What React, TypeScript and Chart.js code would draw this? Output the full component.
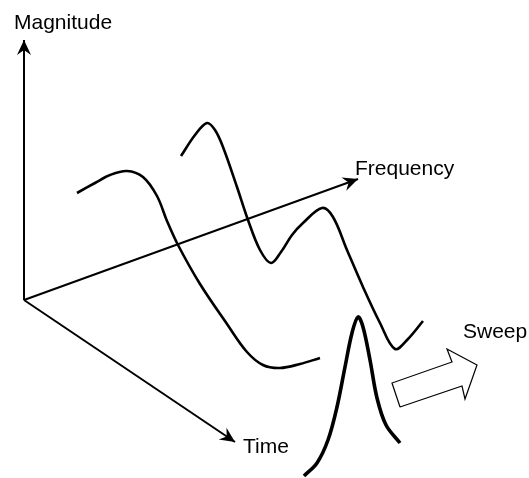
import React, { useEffect, useRef } from "react";
import { Chart, registerables } from "chart.js";

Chart.register(...registerables);

// Diagram coordinates (x to the right, y downward)
const magnitudeAxis = [
  { x: 24, y: 300 },
  { x: 24, y: 40 },
];
const frequencyAxis = [
  { x: 24, y: 300 },
  { x: 358, y: 179 },
];
const timeAxis = [
  { x: 24, y: 300 },
  { x: 235, y: 442 },
];

const backSpectrum = [
  { x: 77, y: 193 }, { x: 95, y: 183 }, { x: 110, y: 175 }, { x: 127, y: 171 },
  { x: 143, y: 177 }, { x: 157, y: 196 }, { x: 167, y: 221 }, { x: 178, y: 245 },
  { x: 200, y: 284 }, { x: 227, y: 324 }, { x: 247, y: 352 }, { x: 263, y: 365 },
  { x: 280, y: 368 }, { x: 300, y: 364 }, { x: 320, y: 358 },
];
const middleSpectrum = [
  { x: 181, y: 156 }, { x: 195, y: 135 }, { x: 207, y: 123 }, { x: 215, y: 130 },
  { x: 223, y: 147 }, { x: 237, y: 187 }, { x: 248, y: 220 }, { x: 260, y: 250 },
  { x: 271, y: 263 }, { x: 281, y: 252 }, { x: 292, y: 235 }, { x: 303, y: 223 },
  { x: 322, y: 208 }, { x: 333, y: 217 }, { x: 347, y: 250 }, { x: 363, y: 287 },
  { x: 380, y: 323 }, { x: 395, y: 349 }, { x: 408, y: 339 }, { x: 423, y: 321 },
];
const frontSpectrum = [
  { x: 304, y: 476 }, { x: 317, y: 463 }, { x: 328, y: 440 }, { x: 337, y: 407 },
  { x: 345, y: 367 }, { x: 352, y: 333 }, { x: 358, y: 317 }, { x: 363, y: 327 },
  { x: 370, y: 360 }, { x: 377, y: 398 }, { x: 386, y: 425 }, { x: 400, y: 443 },
];
const sweepArrow = [
  { x: 400, y: 407 }, { x: 392, y: 383 }, { x: 452, y: 362 }, { x: 447, y: 349 },
  { x: 477, y: 365 }, { x: 465, y: 399 }, { x: 462, y: 386 }, { x: 400, y: 407 },
];

const labelTexts = ["Magnitude", "Frequency", "Time", "Sweep"];
const labelX = [14, 355, 243, 463];
const labelY = [29, 175, 453, 338];

const arrowHeadPlugin = {
  id: "arrowHeads",
  afterDatasetsDraw(chart: any) {
    const ctx = chart.ctx;
    chart.data.datasets.forEach((ds: any, i: number) => {
      if (!ds.arrowHead) return;
      const meta = chart.getDatasetMeta(i);
      const pts = meta.data;
      const a = pts[pts.length - 2];
      const b = pts[pts.length - 1];
      const ang = Math.atan2(b.y - a.y, b.x - a.x);
      const len = 15, half = 7, notch = 10;
      ctx.save();
      ctx.translate(b.x, b.y);
      ctx.rotate(ang);
      ctx.beginPath();
      ctx.moveTo(0, 0);
      ctx.lineTo(-len, -half);
      ctx.lineTo(-notch, 0);
      ctx.lineTo(-len, half);
      ctx.closePath();
      ctx.fillStyle = "#000";
      ctx.fill();
      ctx.restore();
    });
  },
};

const labelPlugin = {
  id: "diagramLabels",
  afterDraw(chart: any) {
    const ctx = chart.ctx;
    const xs = chart.scales.x;
    const ys = chart.scales.y;
    ctx.save();
    ctx.fillStyle = "#000";
    ctx.font = '21px "Liberation Sans", Arial, sans-serif';
    ctx.textAlign = "left";
    ctx.textBaseline = "alphabetic";
    labelTexts.forEach((t, i) => {
      ctx.fillText(t, xs.getPixelForValue(labelX[i]), ys.getPixelForValue(labelY[i]));
    });
    ctx.restore();
  },
};

export default function App() {
  const ref = useRef<HTMLCanvasElement | null>(null);
  useEffect(() => {
    if (!ref.current) return;
    const line = (data: any, width: number, extra: any = {}) => ({
      data,
      showLine: true,
      borderColor: "#000",
      borderWidth: width,
      pointRadius: 0,
      pointHoverRadius: 0,
      fill: false,
      ...extra,
    });
    const chart = new Chart(ref.current, {
      type: "scatter",
      data: {
        datasets: [
          line(magnitudeAxis, 2, { arrowHead: true, tension: 0 }),
          line(frequencyAxis, 2, { arrowHead: true, tension: 0 }),
          line(timeAxis, 2, { arrowHead: true, tension: 0 }),
          line(backSpectrum, 2.6, { tension: 0.35 }),
          line(middleSpectrum, 2.6, { tension: 0.35 }),
          line(frontSpectrum, 3.6, { tension: 0.35 }),
          line(sweepArrow, 1.2, { tension: 0, borderJoinStyle: "miter" }),
        ] as any,
      },
      options: {
        responsive: false,
        animation: false,
        events: [],
        layout: { padding: 0 },
        plugins: { legend: { display: false }, tooltip: { enabled: false } },
        scales: {
          x: { type: "linear", min: 0, max: 529, display: false },
          y: { type: "linear", min: 0, max: 478, reverse: true, display: false },
        },
      },
      plugins: [arrowHeadPlugin, labelPlugin],
    });
    return () => chart.destroy();
  }, []);
  return (
    <div style={{ position: "absolute", left: 0, top: 0, width: 529, height: 478, background: "#fff" }}>
      <canvas ref={ref} width={529} height={478} style={{ display: "block" }} />
    </div>
  );
}
